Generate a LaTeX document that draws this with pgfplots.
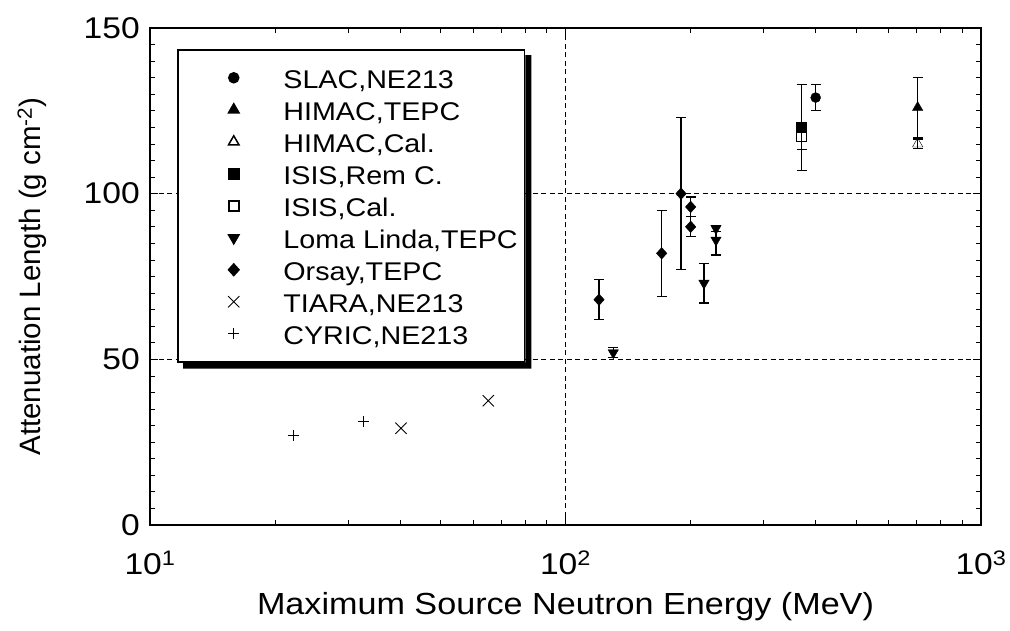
\documentclass[border=0pt]{standalone}
\usepackage{fontspec}
\setmainfont{Liberation Sans}[FakeStretch=1.12]
\newfontfamily\ylabfont{Liberation Sans}
\usepackage{pgfplots}
\pgfplotsset{compat=1.18}
\pgfplotsset{
  eb/.style={error bars/.cd, y dir=both, y explicit,
    error bar style={line width=1.1bp, black},
    error mark options={rotate=90, mark size=5bp, line width=1.1bp, black}},
  mk/.style={only marks, black, mark options={solid, line width=0.9bp, draw=black}},
}
\begin{document}
\begin{tikzpicture}
\begin{axis}[
  name=ax,
  width=831bp, height=497bp, scale only axis,
  xmode=log, xmin=10, xmax=1000, ymin=0, ymax=150,
  xtick={10,100,1000},
  xticklabels={10\textsuperscript{1},10\textsuperscript{2},10\textsuperscript{3}},
  ytick={0,50,100,150}, yticklabels={0,50,100,150},
  minor y tick num=9,
  tick align=inside,
  major tick length=8bp, minor tick length=5bp,
  tick style={line width=0.8bp, black},
  axis line style={line width=1.2bp},
  grid=major,
  major grid style={dash pattern=on 5bp off 3.5bp, line width=0.8bp, black},
  xticklabel style={font=\fontsize{30bp}{36bp}\selectfont, anchor=base, yshift=-49bp},
  yticklabel style={font=\fontsize{30bp}{36bp}\selectfont, anchor=east, inner sep=0pt, xshift=-10bp},
  xlabel={Maximum Source Neutron Energy (MeV)},
  ylabel={Attenuation Length (g cm\textsuperscript{-2})},
  xlabel style={font=\fontsize{30.5bp}{36bp}\selectfont, at={(axis description cs:0.5,-0.181)}, anchor=base},
  ylabel style={font=\ylabfont\fontsize{29.5bp}{35bp}\selectfont, at={(axis description cs:-0.1312,0.5)}, anchor=base},
  legend style={name=leg, at={(0.0325,0.9577)}, anchor=north west, draw=black, line width=1.5bp, fill=white,
    inner xsep=7bp, inner ysep=12bp, row sep=0pt, column sep=44bp,
    font=\fontsize{25.6bp}{30bp}\selectfont,
    nodes={inner sep=0pt, text height=27bp, text depth=5bp, anchor=west}},
  legend cell align=left,
  legend image code/.code={%
    \pgfpathrectangle{\pgfqpoint{-49bp}{-6bp}}{\pgfqpoint{54bp}{12bp}}\pgfusepath{discard}%
    \draw[#1] plot coordinates {(0bp,0bp)};},
]
% SLAC
\addplot[mk, mark=*, mark size=5bp, mark options={fill=black}, eb] coordinates {(400,129) +- (0,4)};
\addlegendentry{SLAC,NE213}
% HIMAC TEPC
\addplot[mk, mark=triangle*, mark size=6bp, mark options={fill=black}, eb] coordinates {(704,126) +- (0,9)};
\addlegendentry{HIMAC,TEPC}
% HIMAC Cal
\addplot[mk, mark=triangle, mark size=6bp, mark options={fill=white}, eb] coordinates {(704,115) +- (0,1.5)};
\addlegendentry{HIMAC,Cal.}
% ISIS Rem C
\addplot[mk, mark=square*, mark size=5bp, mark options={fill=black}, eb] coordinates {(370,120) +- (0,13)};
\addlegendentry{ISIS,Rem C.}
% ISIS Cal
\addplot[mk, mark=square, mark size=5bp, mark options={fill=white}, eb] coordinates {(370,117.3) +- (0,4)};
\addlegendentry{ISIS,Cal.}
% Loma Linda
\addplot[mk, mark=triangle*, mark size=6bp, mark options={fill=black, rotate=180}, eb] coordinates {
 (130.3,52) +- (0,1.5)
 (215.4,73) +- (0,6)
 (230.2,89.5) +- (0,0.8)
 (230.2,86) +- (0,4.5)
};
\addlegendentry{Loma Linda,TEPC}
% Orsay
\addplot[mk, mark=diamond*, mark size=5.8bp, mark options={fill=black, xscale=1.2}, eb] coordinates {
 (120.4,68) +- (0,6)
 (170.4,82) +- (0,13)
 (189.7,100) +- (0,23)
 (200.1,96) +- (0,3)
 (200.1,90) +- (0,3)
};
\addlegendentry{Orsay,TEPC}
% TIARA
\addplot[mk, mark=x, mark size=8bp] coordinates {(40.2,29.2) (65.2,37.5)};
\addlegendentry{TIARA,NE213}
% CYRIC
\addplot[mk, mark=+, mark size=5.5bp] coordinates {(22.1,26.9) (32.6,31.2)};
\addlegendentry{CYRIC,NE213}
\end{axis}
% legend shadow (L-shaped, outside the legend box)
\fill[black] ([xshift=6bp]leg.south west) -- ([xshift=6bp,yshift=-6bp]leg.south west)
  -- ([xshift=6bp,yshift=-6bp]leg.south east) -- ([xshift=6bp,yshift=-6bp]leg.north east)
  -- ([yshift=-6bp]leg.north east) -- (leg.south east) -- cycle;
\path (-150bp,-106bp) rectangle (860bp,525bp);
\end{tikzpicture}
\end{document}
